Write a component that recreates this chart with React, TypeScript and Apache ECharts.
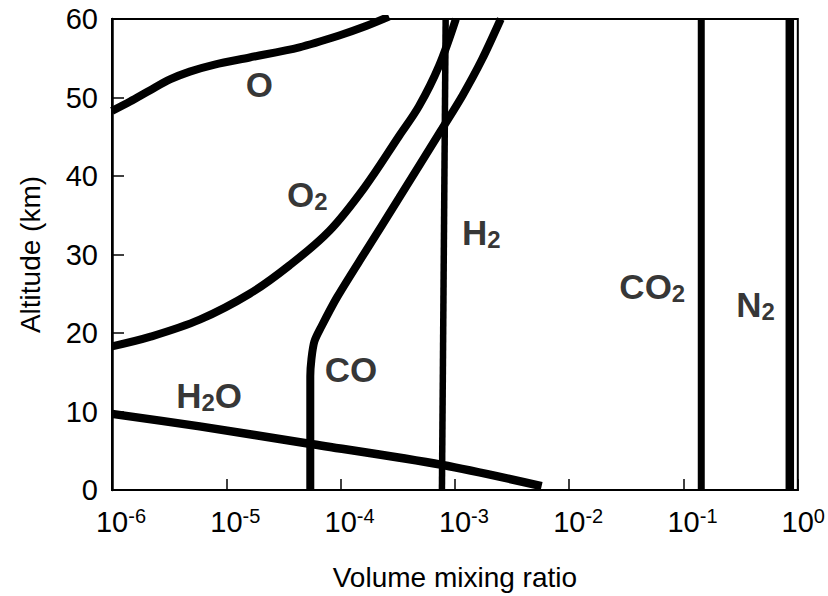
import React, { useEffect, useRef } from "react";
import * as echarts from "echarts";

// ---- data ----
const X_TICK_EXPONENTS = [-6, -5, -4, -3, -2, -1, 0];
const Y_TICKS = [0, 10, 20, 30, 40, 50, 60];

const O_X = [1e-6, 1.44e-6, 2.14e-6, 3.21e-6, 4.79e-6, 7.91e-6, 1.6e-5, 4.36e-5, 9.72e-5, 1.67e-4, 2.65e-4];
const O_ALT = [48.3, 49.5, 50.9, 52.3, 53.3, 54.2, 55.1, 56.4, 57.9, 59.1, 60.3];

const O2_X = [1e-6, 2.14e-6, 5.85e-6, 1.6e-5, 3.56e-5, 7.96e-5, 1.61e-4, 3.25e-4, 4.85e-4, 7.25e-4, 1.02e-3];
const O2_ALT = [18.3, 19.5, 21.7, 25, 28.6, 33, 38.5, 45.1, 48.9, 54, 60];

const CO_X = [5.43e-5, 5.43e-5, 5.55e-5, 5.89e-5, 6.78e-5, 9.35e-5, 1.67e-4, 3.25e-4, 7.71e-4, 1.17e-3, 1.72e-3, 2.52e-3];
const CO_ALT = [0, 14.5, 16.6, 18.9, 20.8, 24.6, 30.5, 37.2, 46, 50.3, 54.8, 60];

const H2O_X = [1e-6, 5.85e-6, 5.33e-5, 7.71e-4, 5.74e-3];
const H2O_ALT = [9.7, 8.1, 5.9, 3.2, 0.5];

const H2_X = [7.7e-4, 8.3e-4];
const CO2_X = [0.143, 0.143];
const N2_X = [0.851, 0.851];
const VERT_ALT = [0, 60];

const LABEL_TEXT = ["O", "O2", "H2", "CO2", "N2", "CO", "H2O"];
const LABEL_X = [1.95e-5, 5.12e-5, 1.7e-3, 0.0533, 0.426, 1.23e-4, 7.08e-6];
const LABEL_ALT = [51.7, 37.6, 32.8, 25.9, 23.6, 15.3, 12.0];

const FONT = "'Liberation Sans', Arial, Helvetica, sans-serif";
const INK = "#000000";

function pairs(xs: number[], ys: number[]) {
  return xs.map((x, i) => [x, ys[i]]);
}

function chemRich(t: string) {
  return t.replace(/(\D+)|(\d+)/g, (_m, a, d) => (a ? `{m|${a}}` : `{s|${d}}`));
}

export default function App() {
  const ref = useRef<HTMLDivElement>(null);

  useEffect(() => {
    document.body.style.margin = "0";
    if (!ref.current) return;
    const chart = echarts.init(ref.current, null, { renderer: "svg" });

    const lineSeries = (name: string, xs: number[], ys: number[], width: number, smooth: number | boolean) => ({
      name,
      type: "line",
      data: pairs(xs, ys),
      showSymbol: false,
      symbol: "none",
      smooth,
      lineStyle: { color: INK, width },
      silent: true,
      z: 3,
    });

    const option: any = {
      animation: false,
      backgroundColor: "#ffffff",
      grid: {
        left: 112,
        right: 28,
        top: 19,
        bottom: 101,
        show: true,
        borderColor: INK,
        borderWidth: 2,
        containLabel: false,
      },
      xAxis: {
        type: "log",
        logBase: 10,
        min: 1e-6,
        max: 1,
        name: "Volume mixing ratio",
        nameLocation: "middle",
        nameGap: 73,
        nameTextStyle: { fontFamily: FONT, fontSize: 28, color: INK },
        axisLine: { show: true, lineStyle: { color: INK, width: 2 } },
        axisTick: { show: true, inside: true, length: 11, lineStyle: { color: INK, width: 1.5 } },
        minorTick: { show: false },
        splitLine: { show: false },
        axisLabel: {
          margin: 16,
          formatter: (v: number) => {
            const e = Math.round(Math.log10(v));
            if (!X_TICK_EXPONENTS.includes(e)) return "";
            const pad = String(e).length > 1 ? "p2" : "p1";
            return `{${pad}| }{b|10}{s|${e}}`;
          },
          rich: {
            b: { fontFamily: FONT, fontSize: 29, color: INK, lineHeight: 32 },
            s: { fontFamily: FONT, fontSize: 20, color: INK, lineHeight: 22, verticalAlign: "top" },
            p1: { fontFamily: FONT, fontSize: 20, width: 11 },
            p2: { fontFamily: FONT, fontSize: 20, width: 18 },
          },
        },
      },
      yAxis: {
        type: "value",
        min: 0,
        max: 60,
        interval: 10,
        name: "Altitude (km)",
        nameLocation: "middle",
        nameGap: 68,
        nameTextStyle: { fontFamily: FONT, fontSize: 28, color: INK },
        axisLine: { show: true, lineStyle: { color: INK, width: 2.5 } },
        axisTick: { show: true, inside: true, length: 12, lineStyle: { color: INK, width: 1.5 } },
        splitLine: { show: false },
        axisLabel: {
          margin: 14,
          fontFamily: FONT,
          fontSize: 29,
          color: INK,
          formatter: (v: number) => (Y_TICKS.includes(v) ? String(v) : ""),
        },
      },
      series: [
        lineSeries("O", O_X, O_ALT, 8, 0.3),
        lineSeries("O2", O2_X, O2_ALT, 8, 0.35),
        lineSeries("CO", CO_X, CO_ALT, 8, 0.3),
        lineSeries("H2O", H2O_X, H2O_ALT, 8.5, 0.3),
        lineSeries("H2", H2_X, VERT_ALT, 6.5, false),
        lineSeries("CO2", CO2_X, VERT_ALT, 7, false),
        lineSeries("N2", N2_X, VERT_ALT, 8.5, false),
        {
          name: "labels",
          type: "scatter",
          data: LABEL_TEXT.map((t, i) => [LABEL_X[i], LABEL_ALT[i], t]),
          symbolSize: 0,
          silent: true,
          z: 5,
          label: {
            show: true,
            position: "inside",
            formatter: (p: any) => chemRich(p.data[2]),
            rich: {
              m: { fontFamily: FONT, fontSize: 35, fontWeight: "bold", color: INK, lineHeight: 38 },
              s: { fontFamily: FONT, fontSize: 24, fontWeight: "bold", color: INK, lineHeight: 20, verticalAlign: "bottom" },
            },
          },
        },
      ],
    };

    chart.setOption(option);
    return () => chart.dispose();
  }, []);

  return <div ref={ref} style={{ width: 828, height: 596 }} />;
}
